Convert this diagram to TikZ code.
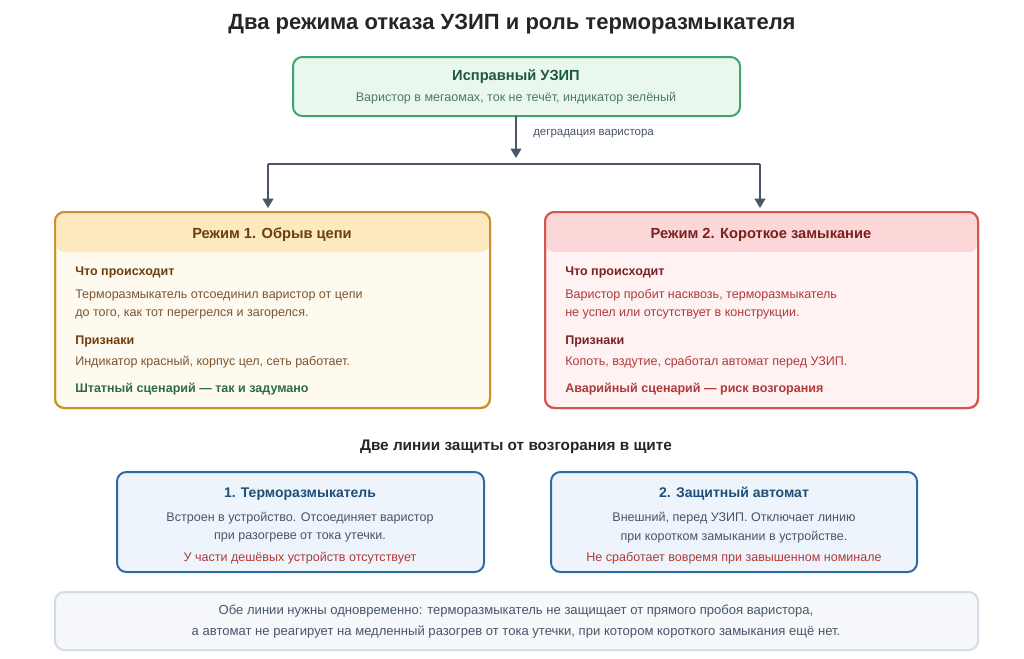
\documentclass[tikz,border=0pt]{standalone}
\usepackage{fontspec}
\setmainfont{Liberation Sans}
\usetikzlibrary{arrows.meta}
\definecolor{grB}{HTML}{3DA66E}\definecolor{grF}{HTML}{E9F7EF}\definecolor{grT}{HTML}{1E5A3A}
\definecolor{orB}{HTML}{C8922F}\definecolor{orH}{HTML}{FDE9BE}\definecolor{orF}{HTML}{FFFAF0}\definecolor{orT}{HTML}{6B3E10}\definecolor{orX}{HTML}{7A5530}
\definecolor{rdB}{HTML}{D9534F}\definecolor{rdH}{HTML}{FCD7D7}\definecolor{rdF}{HTML}{FFF2F2}\definecolor{rdT}{HTML}{7A2020}\definecolor{rdX}{HTML}{B0393A}
\definecolor{blB}{HTML}{2F6AA8}\definecolor{blF}{HTML}{EEF4FB}\definecolor{blT}{HTML}{1F4E7A}
\definecolor{gy}{HTML}{4A5568}\definecolor{gyB}{HTML}{D3DCE4}\definecolor{gyF}{HTML}{F6F8FB}\definecolor{okG}{HTML}{2E6B45}
\tikzset{x=0.75pt,y=-0.75pt,
 box/.style={rounded corners=7pt,line width=1.5pt},
 t/.style={font=\fontsize{9.4}{11}\selectfont,anchor=west,inner sep=0},
 tc/.style={font=\fontsize{9.4}{11}\selectfont,inner sep=0},
 hd/.style={font=\bfseries\fontsize{11}{13}\selectfont,inner sep=0},
 arr/.style={gy,line width=1.3pt,-{Triangle[length=7pt,width=8pt]}}}
\begin{document}
\begin{tikzpicture}
\useasboundingbox[fill=white] (0,0) rectangle (1024,658);
\node[font=\bfseries\fontsize{16.5}{19}\selectfont,text=black!85] (title) at (512,24) {Два режима отказа УЗИП и роль терморазмыкателя};
% top
\draw[box,draw=grB,fill=grF] (293,57) rectangle (740,116);
\node[hd,text=grT] (ok) at (516,77) {Исправный УЗИП};
\node[tc,text=grT!80] (oks) at (516,98) {Варистор в мегаомах, ток не течёт, индикатор зелёный};
\coordinate (a0) at (516,116); \coordinate (a1) at (516,158);
\coordinate (hl) at (268,164); \coordinate (hr) at (760,164);
\coordinate (l1) at (268,208); \coordinate (r1) at (760,208);
\draw[arr] (a0) -- (a1);
\node[t,text=gy,font=\fontsize{8.6}{10}\selectfont] (deg) at (533,134) {деградация варистора};
\draw[gy,line width=1.3pt] (hl) -- (hr);
\draw[arr] (hl) -- (l1);
\draw[arr] (hr) -- (r1);
% left
\draw[box,draw=orB,fill=orF] (55,212) rectangle (490,408);
\fill[orH,rounded corners=6pt] (56,213) rectangle (489,252);
\draw[orB,line width=1.5pt,rounded corners=7pt] (55,212) rectangle (490,408);
\node[hd,text=orT] (lt) at (272,235) {Режим 1. Обрыв цепи};
\node[t,font=\bfseries\fontsize{9.4}{11}\selectfont,text=orT] (lq) at (75,272) {Что происходит};
\node[t,text=orX] (l2) at (75,295) {Терморазмыкатель отсоединил варистор от цепи};
\node[t,text=orX] (l3) at (75,314) {до того, как тот перегрелся и загорелся.};
\node[t,font=\bfseries\fontsize{9.4}{11}\selectfont,text=orT] (lp) at (75,341) {Признаки};
\node[t,text=orX] (l4) at (75,362) {Индикатор красный, корпус цел, сеть работает.};
\node[t,font=\bfseries\fontsize{9.4}{11}\selectfont,text=okG] (l5) at (75,389) {Штатный сценарий — так и задумано};
% right
\draw[box,draw=rdB,fill=rdF] (545,212) rectangle (978,408);
\fill[rdH,rounded corners=6pt] (546,213) rectangle (977,252);
\draw[rdB,line width=1.5pt,rounded corners=7pt] (545,212) rectangle (978,408);
\node[hd,text=rdT] (rt) at (761,235) {Режим 2. Короткое замыкание};
\node[t,font=\bfseries\fontsize{9.4}{11}\selectfont,text=rdT] (rq) at (565,272) {Что происходит};
\node[t,text=rdX] (r2) at (565,295) {Варистор пробит насквозь, терморазмыкатель};
\node[t,text=rdX] (r3) at (565,314) {не успел или отсутствует в конструкции.};
\node[t,font=\bfseries\fontsize{9.4}{11}\selectfont,text=rdT] (rp) at (565,341) {Признаки};
\node[t,text=rdX] (r4) at (565,362) {Копоть, вздутие, сработал автомат перед УЗИП.};
\node[t,font=\bfseries\fontsize{9.4}{11}\selectfont,text=rdX] (r5) at (565,389) {Аварийный сценарий — риск возгорания};
% lines
\node[font=\bfseries\fontsize{11.5}{13}\selectfont,text=black!85] (sub) at (516,447) {Две линии защиты от возгорания в щите};
\draw[box,draw=blB,fill=blF] (117,472) rectangle (484,572);
\node[hd,text=blT,font=\bfseries\fontsize{10.5}{12}\selectfont] (b1) at (300,494) {1. Терморазмыкатель};
\node[tc,text=gy] (b1a) at (300,518) {Встроен в устройство. Отсоединяет варистор};
\node[tc,text=gy] (b1b) at (300,537) {при разогреве от тока утечки.};
\node[tc,text=rdX] (b1c) at (300,558) {У части дешёвых устройств отсутствует};
\draw[box,draw=blB,fill=blF] (551,472) rectangle (917,572);
\node[hd,text=blT,font=\bfseries\fontsize{10.5}{12}\selectfont] (b2) at (734,494) {2. Защитный автомат};
\node[tc,text=gy] (b2a) at (734,518) {Внешний, перед УЗИП. Отключает линию};
\node[tc,text=gy] (b2b) at (734,537) {при коротком замыкании в устройстве.};
\node[tc,text=rdX] (b2c) at (734,558) {Не сработает вовремя при завышенном номинале};
% bottom
\draw[box,draw=gyB,fill=gyF] (55,592) rectangle (978,650);
\node[tc,text=gy,font=\fontsize{9.8}{11}\selectfont] (n1) at (516,611) {Обе линии нужны одновременно: терморазмыкатель не защищает от прямого пробоя варистора,};
\node[tc,text=gy,font=\fontsize{9.8}{11}\selectfont] (n2) at (516,632) {а автомат не реагирует на медленный разогрев от тока утечки, при котором короткого замыкания ещё нет.};
\end{tikzpicture}
\end{document}
